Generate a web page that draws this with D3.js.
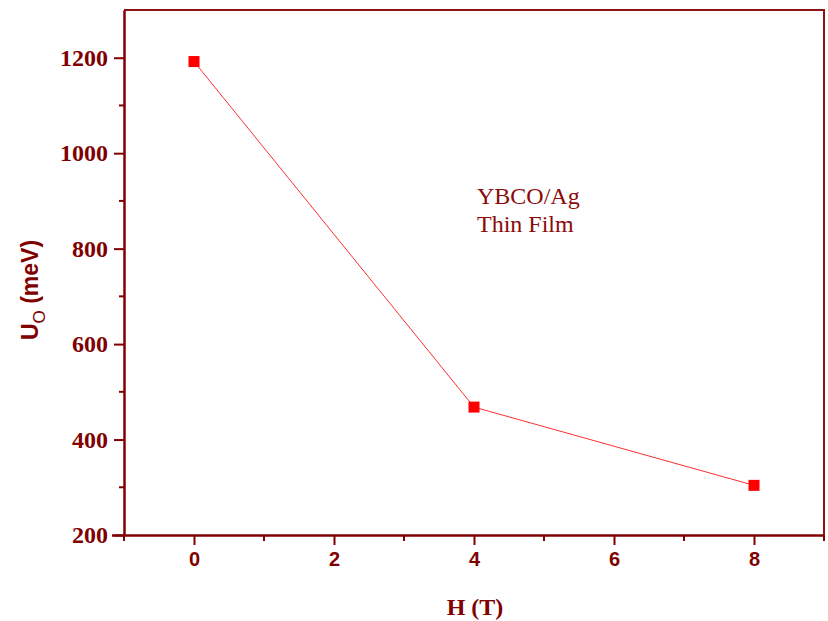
<!DOCTYPE html>
<html>
<head>
<meta charset="utf-8">
<script src="https://cdn.jsdelivr.net/npm/d3@7"></script>
<style>
  body { margin: 0; background: #fff; }
  svg { display: block; }
</style>
</head>
<body>
<script>
// data
const fieldT = [0, 4, 8];
const u0 = [1192, 468, 304];
const yTicks = [200, 400, 600, 800, 1000, 1200];
const xTicks = [0, 2, 4, 6, 8];
const note = ["YBCO/Ag", "Thin Film"];

const width = 828, height = 621;
const margin = {left: 124, top: 10, right: 4, bottom: 86};
const axisColor = "#800000";

const svg = d3.select("body").append("svg")
    .attr("width", width)
    .attr("height", height);

const x = d3.scaleLinear().domain([-1, 9]).range([margin.left, width - margin.right]);
const y = d3.scaleLinear().domain([200, 1300]).range([height - margin.bottom, margin.top]);

// frame top / right (no ticks)
svg.append("path")
    .attr("d", `M${x(-1)},${y(1300)}H${x(9)}V${y(200)}`)
    .attr("fill", "none")
    .attr("stroke", "#8b1515")
    .attr("stroke-width", 2);

// minor ticks
const yMinor = d3.range(300, 1300, 200);
const xMinor = d3.range(-1, 10, 2);

const yAxis = svg.append("g")
    .attr("transform", `translate(${x(-1)},0)`)
    .call(d3.axisLeft(y).tickValues(yTicks).tickFormat(d3.format("d"))
        .tickSize(10).tickPadding(6).tickSizeOuter(0));
yAxis.selectAll("text")
    .style("font-family", "'Liberation Serif', 'Times New Roman', serif")
    .style("font-weight", "bold")
    .style("font-size", "24px");

const xAxis = svg.append("g")
    .attr("transform", `translate(0,${y(200)})`)
    .call(d3.axisBottom(x).tickValues(xTicks).tickFormat(d3.format("d"))
        .tickSize(10).tickPadding(7).tickSizeOuter(0));
xAxis.selectAll("text")
    .style("font-family", "'Liberation Sans', Arial, sans-serif")
    .style("font-weight", "bold")
    .style("font-size", "20px");

svg.append("g").selectAll("line")
    .data(yMinor).join("line")
    .attr("x1", x(-1) - 5).attr("x2", x(-1))
    .attr("y1", d => y(d)).attr("y2", d => y(d));
svg.append("g").selectAll("line")
    .data(xMinor).join("line")
    .attr("x1", d => x(d)).attr("x2", d => x(d))
    .attr("y1", y(200)).attr("y2", y(200) + 6);

svg.selectAll("line").attr("stroke", axisColor).attr("stroke-width", 2);
[xAxis, yAxis].forEach(a => {
    a.select(".domain").attr("stroke", axisColor).attr("stroke-width", 2.5);
    a.selectAll(".tick line").attr("stroke", axisColor).attr("stroke-width", 2);
    a.selectAll("text").attr("fill", axisColor);
});
// extend the bottom axis line to the left past the corner
xAxis.select(".domain").attr("d", `M${x(-1) - 12},0.5H${x(9)}`);

// series line
const line = d3.line().x(d => x(d[0])).y(d => y(d[1]));
const pts = d3.zip(fieldT, u0);
svg.append("path")
    .datum(pts)
    .attr("d", line)
    .attr("fill", "none")
    .attr("stroke", "#ff3030")
    .attr("stroke-width", 1);

const ms = 11;
svg.append("g").selectAll("rect")
    .data(pts).join("rect")
    .attr("x", d => x(d[0]) - ms / 2)
    .attr("y", d => y(d[1]) - ms / 2)
    .attr("width", ms).attr("height", ms)
    .attr("fill", "#ff0000");

// annotation
svg.append("g").selectAll("text")
    .data(note).join("text")
    .attr("x", 477)
    .attr("y", (d, i) => 204 + i * 28)
    .attr("fill", "#8b0a0a")
    .style("font-family", "'Liberation Serif', 'Times New Roman', serif")
    .style("font-size", "24px")
    .text(d => d);

// axis titles
svg.append("text")
    .attr("x", (x(-1) + x(9)) / 2 + 1)
    .attr("y", 615)
    .attr("text-anchor", "middle")
    .attr("fill", axisColor)
    .style("font-family", "'Liberation Serif', 'Times New Roman', serif")
    .style("font-weight", "bold")
    .style("font-size", "24px")
    .text("H (T)");

const yTitle = svg.append("text")
    .attr("transform", "translate(38,290) rotate(-90)")
    .attr("text-anchor", "middle")
    .attr("fill", axisColor)
    .style("font-family", "'Liberation Sans', Arial, sans-serif")
    .style("font-weight", "bold")
    .style("font-size", "23px");
yTitle.append("tspan").text("U");
yTitle.append("tspan").attr("dy", 7).style("font-size", "17px").style("font-weight", "normal").text("O");
yTitle.append("tspan").attr("dy", -7).text(" (meV)");
</script>
</body>
</html>
